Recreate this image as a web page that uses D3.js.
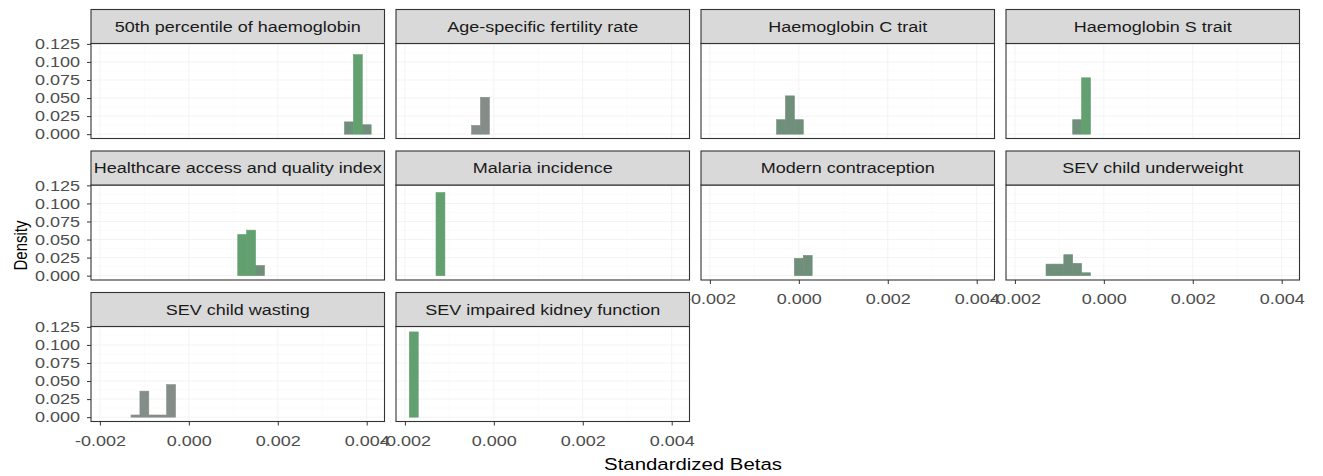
<!DOCTYPE html>
<html><head><meta charset="utf-8">
<script src="https://cdn.jsdelivr.net/npm/d3@7"></script>
<style>body{margin:0;background:#fff} text{font-family:"Liberation Sans", Arial, Helvetica, sans-serif}</style>
</head><body><svg id="c" width="1323" height="476"></svg>
<script>
// ---- data ----
const panelNames = [
  "50th percentile of haemoglobin", "Age-specific fertility rate", "Haemoglobin C trait", "Haemoglobin S trait",
  "Healthcare access and quality index", "Malaria incidence", "Modern contraception", "SEV child underweight",
  "SEV child wasting", "SEV impaired kidney function"
];
const binWidth = 0.0002;
const binStarts = [
  [0.0035, 0.0037, 0.0039],
  [-0.0005, -0.0003],
  [-0.0005, -0.0003, -0.0001],
  [-0.0007, -0.0005],
  [0.0011, 0.0013, 0.0015],
  [-0.0013],
  [-0.0001, 0.0001],
  [-0.0013, -0.0011, -0.0009, -0.0007, -0.0005],
  [-0.0013, -0.0011, -0.0009, -0.0007, -0.0005],
  [-0.0019]
];
const densities = [
  [0.017, 0.110, 0.013],
  [0.012, 0.051],
  [0.020, 0.053, 0.020],
  [0.020, 0.078],
  [0.057, 0.063, 0.014],
  [0.115],
  [0.024, 0.028],
  [0.016, 0.016, 0.029, 0.017, 0.004],
  [0.003, 0.036, 0.003, 0.003, 0.045],
  [0.118]
];
const shades = [
  ["mid", "green", "mid"],
  ["grey", "grey"],
  ["mid", "mid", "mid"],
  ["mid", "green"],
  ["green", "green", "mid"],
  ["green"],
  ["mid", "mid"],
  ["mid", "mid", "mid", "mid", "mid"],
  ["grey", "grey", "grey", "grey", "grey"],
  ["green"]
];
const xTickValues = [-0.002, 0, 0.002, 0.004];
const xMinorValues = [-0.001, 0.001, 0.003];
const yTickValues = [0, 0.025, 0.05, 0.075, 0.1, 0.125];
const yMinorValues = [0.0125, 0.0375, 0.0625, 0.0875, 0.1125];
const xTitle = "Standardized Betas";
const yTitle = "Density";

// ---- layout ----
const ncol = 4;
const colLeft = c => 91 + c * 305;
const panelW = 293.5, stripH = 34, panelH = 95;
const stripTop = r => 9.5 + r * 141.5;
const SX = 1.2;

const svg = d3.select("#c");
svg.append("rect").attr("width", 1323).attr("height", 476).attr("fill", "#fff");

const x = d3.scaleLinear().domain([-0.0022, 0.0044]).range([0, panelW]);
const y = d3.scaleLinear().domain([-0.006, 0.1255]).range([panelH, 0]);
const color = d3.scaleOrdinal().domain(["green", "mid", "grey"]).range(["#63a070", "#6f8f7b", "#858d88"]);
const fmt = d => d3.format(".3f")(d).replace("\u2212", "-");

const n = panelNames.length;
panelNames.forEach((name, i) => {
  const r = Math.floor(i / ncol), c = i % ncol;
  const g = svg.append("g").attr("transform", `translate(${colLeft(c)},${stripTop(r) + stripH})`);

  // grid
  g.selectAll(".ymin").data(yMinorValues).join("line")
    .attr("x1", 0).attr("x2", panelW).attr("y1", d => y(d)).attr("y2", d => y(d))
    .attr("stroke", "#f8f8f8").attr("stroke-width", 0.6);
  g.selectAll(".xmin").data(xMinorValues).join("line")
    .attr("y1", 0).attr("y2", panelH).attr("x1", d => x(d)).attr("x2", d => x(d))
    .attr("stroke", "#f8f8f8").attr("stroke-width", 0.6);
  g.selectAll(".ymaj").data(yTickValues).join("line")
    .attr("x1", 0).attr("x2", panelW).attr("y1", d => y(d)).attr("y2", d => y(d))
    .attr("stroke", "#f3f3f3").attr("stroke-width", 1);
  g.selectAll(".xmaj").data(xTickValues).join("line")
    .attr("y1", 0).attr("y2", panelH).attr("x1", d => x(d)).attr("x2", d => x(d))
    .attr("stroke", "#f3f3f3").attr("stroke-width", 1);

  // bars
  const bins = binStarts[i].map((s, k) => ({ s, d: densities[i][k], sh: shades[i][k] }));
  g.selectAll(".bar").data(bins).join("rect")
    .attr("x", b => x(b.s)).attr("width", b => x(b.s + binWidth) - x(b.s))
    .attr("y", b => y(b.d)).attr("height", b => y(0) - y(b.d))
    .attr("fill", b => color(b.sh))
    .attr("stroke", b => color(b.sh)).attr("stroke-width", 0.6);

  // panel border
  g.append("rect").attr("width", panelW).attr("height", panelH)
    .attr("fill", "none").attr("stroke", "#333").attr("stroke-width", 1.1);

  // strip
  g.append("rect").attr("y", -stripH).attr("width", panelW).attr("height", stripH)
    .attr("fill", "#d9d9d9").attr("stroke", "#333").attr("stroke-width", 1.1);
  g.append("text")
    .attr("transform", `translate(${panelW / 2},${-stripH / 2}) scale(${SX},1)`)
    .attr("dy", "0.35em").attr("text-anchor", "middle")
    .attr("font-size", 15).attr("fill", "#1a1a1a").text(name);

  // axes
  if (c === 0) {
    const ax = g.append("g").call(d3.axisLeft(y).tickValues(yTickValues).tickFormat(fmt).tickSize(4).tickPadding(5.2));
    ax.select(".domain").remove();
    ax.selectAll("line").attr("stroke", "#333");
    ax.selectAll("text").attr("font-size", 15).attr("fill", "#4d4d4d")
      .attr("font-family", "Liberation Sans, Arial, sans-serif").attr("transform", `scale(${SX},1)`);
  }
  if (i + ncol >= n) {
    const ax = g.append("g").attr("transform", `translate(0,${panelH})`)
      .call(d3.axisBottom(x).tickValues(xTickValues).tickFormat(fmt).tickSize(4).tickPadding(9.5));
    ax.select(".domain").remove();
    ax.selectAll("line").attr("stroke", "#333");
    ax.selectAll("text").attr("font-size", 15).attr("fill", "#4d4d4d")
      .attr("font-family", "Liberation Sans, Arial, sans-serif").attr("transform", `scale(${SX},1)`);
  }
});

// titles
svg.append("text").attr("transform", `translate(693,470) scale(${SX},1)`)
  .attr("text-anchor", "middle").attr("font-size", 17).attr("fill", "#000").text(xTitle);
svg.append("text").attr("transform", `translate(26.5,245.5) rotate(-90) scale(1,${SX})`)
  .attr("text-anchor", "middle").attr("font-size", 15).attr("fill", "#000").text(yTitle);
</script></body></html>
